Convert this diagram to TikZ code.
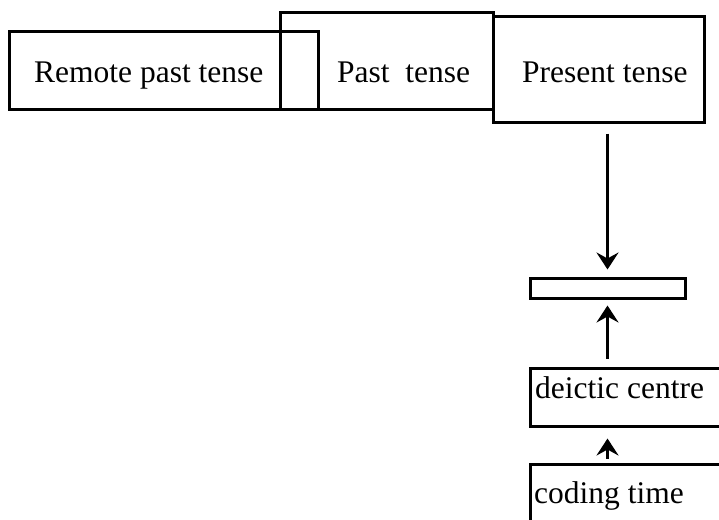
\documentclass[tikz,border=0pt]{standalone}
\usepackage{fontspec}
\setmainfont{Liberation Serif}
\usetikzlibrary{arrows.meta}
\begin{document}
\begin{tikzpicture}[x=1pt,y=-1pt,
  tbox/.style={draw, line width=3pt, rectangle, inner sep=0pt},
  lbl/.style={anchor=base west, inner sep=0pt, font=\fontsize{31.5}{36}\selectfont},
  arr/.style={line width=3pt, -{Stealth[length=17pt,width=22pt,inset=6pt]}}]
\useasboundingbox (0,0) rectangle (719,519);
\clip (0,0) rectangle (719,519);
% tense boxes along the top
\node[tbox, minimum width=309pt, minimum height=77pt] (remote) at (163.5,70.5) {};
\node[tbox, minimum width=213pt, minimum height=96pt] (past) at (386.5,61) {};
\node[tbox, minimum width=211pt, minimum height=105pt] (present) at (598.5,69.5) {};
\node[lbl] (tremote) at (34,82) {Remote past tense};
\node[lbl] (tpast) at (337,82) {Past\ \ tense};
\node[lbl] (tpresent) at (522,82) {Present tense};
% bar, deictic centre and coding time
\node[tbox, minimum width=155pt, minimum height=20pt] (bar) at (607.5,288) {};
\node[tbox, minimum width=200pt, minimum height=58pt] (deictic) at (630,397) {};
\node[tbox, minimum width=200pt, minimum height=80pt] (coding) at (630,504) {};
\node[lbl] (tdeictic) at (535,398) {deictic centre};
\node[lbl] (tcoding) at (534,503) {coding time};
% connectors
\draw[arr, shorten <=10pt, shorten >=7pt] (present.south -| bar.north) -- (bar.north);
\draw[arr, shorten <=8pt, shorten >=6pt] (deictic.north -| bar.south) -- (bar.south);
\draw[arr, shorten <=4pt, shorten >=11pt] (coding.north -| bar.south) -- (deictic.south -| bar.south);
\end{tikzpicture}
\end{document}
